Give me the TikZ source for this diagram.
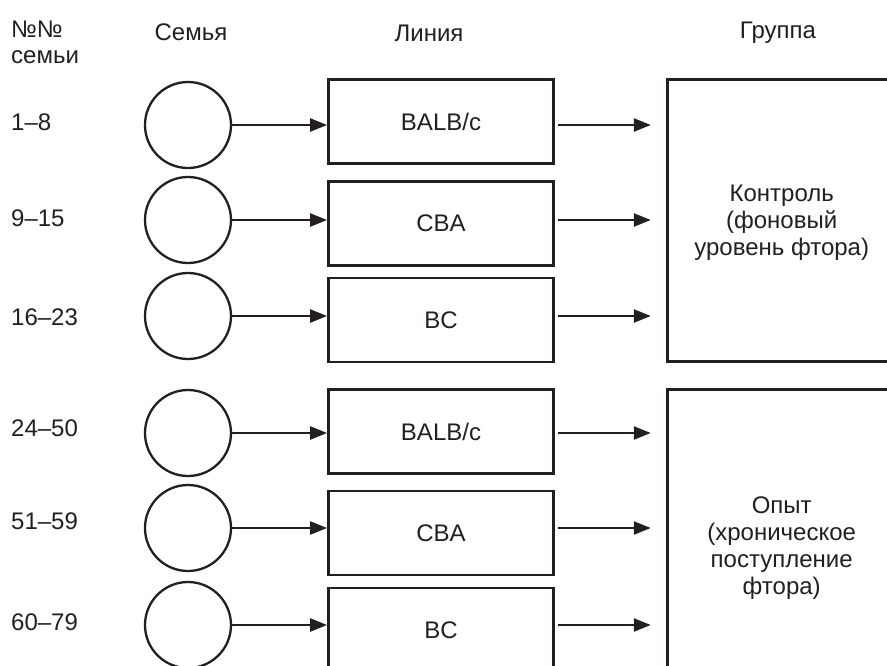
\documentclass[tikz,border=0pt]{standalone}
\usepackage{fontspec}
\setmainfont{Liberation Sans}
\usetikzlibrary{arrows.meta}
\definecolor{ink}{HTML}{231F20}
\begin{document}
\begin{tikzpicture}[x=1pt,y=-1pt,
  font=\fontsize{24}{27}\selectfont, text=ink,
  fam/.style={circle,draw=ink,line width=2.3pt,minimum size=86pt,inner sep=0pt},
  linebox/.style={rectangle,draw=ink,line width=2.8pt,minimum width=225pt,minimum height=84pt,inner sep=0pt},
  grpbox/.style={rectangle,draw=ink,line width=2.8pt,minimum width=229pt,align=center,inner sep=0pt},
  lbl/.style={anchor=base west,inner sep=0pt},
  head/.style={anchor=base,inner sep=0pt},
  arr/.style={draw=ink,line width=2.4pt,-{Triangle[length=17pt,width=13pt]}}
]
\useasboundingbox (0,0) rectangle (887,665);
\clip (0,0) rectangle (887,665);
\fill[white] (0,0) rectangle (887,665);

% headers
\node[lbl] (h0a) at (11,37) {№№};
\node[lbl] (h0b) at (11,63) {семьи};
\node[head] (h1) at (191,40) {Семья};
\node[head] (h2) at (429,41) {Линия};
\node[head] (h3) at (778,38) {Группа};

% family numbers
\node[lbl] (n1) at (11,130) {1–8};
\node[lbl] (n2) at (11,226) {9–15};
\node[lbl] (n3) at (11,325) {16–23};
\node[lbl] (n4) at (11,436) {24–50};
\node[lbl] (n5) at (11,529) {51–59};
\node[lbl] (n6) at (11,630) {60–79};

% circles
\node[fam] (c1) at (188,125) {};
\node[fam] (c2) at (188,220) {};
\node[fam] (c3) at (188,316) {};
\node[fam] (c4) at (188,433) {};
\node[fam] (c5) at (188,528) {};
\node[fam] (c6) at (188,625) {};

% line boxes
\node[linebox] (l1) at (441,121.5) {BALB/c};
\node[linebox] (l2) at (441,223.5) {CBA};
\node[linebox] (l3) at (441,320) {BC};
\node[linebox] (l4) at (441,431.5) {BALB/c};
\node[linebox] (l5) at (441,533) {CBA};
\node[linebox] (l6) at (441,630) {BC};

% group boxes
\node[grpbox,minimum height=282pt,text depth=-3pt] (g1) at (781.7,220.5) {Контроль\\(фоновый\\уровень фтора)};
\node[grpbox,minimum height=313pt,text depth=-1pt] (g2) at (781.7,546) {Опыт\\(хроническое\\поступление\\фтора)};

% arrows circle -> line
\foreach \i in {1,...,6}{
  \draw[arr] (c\i) -- (c\i -| l\i.west);
}
% arrows line -> group
\foreach \i in {1,2,3}{
  \draw[arr,shorten <=3pt,shorten >=15pt] (c\i -| l\i.east) -- (c\i -| g1.west);
}
\foreach \i in {4,5,6}{
  \draw[arr,shorten <=3pt,shorten >=15pt] (c\i -| l\i.east) -- (c\i -| g2.west);
}
\end{tikzpicture}
\end{document}
